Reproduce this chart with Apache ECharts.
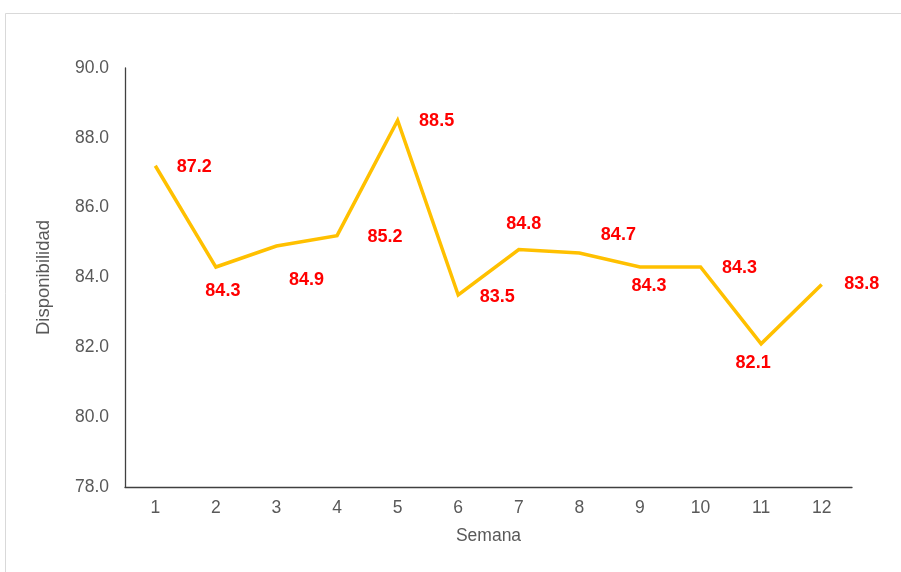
<!DOCTYPE html>
<html>
<head>
<meta charset="utf-8">
<title>Disponibilidad por semana</title>
<script src="https://cdn.jsdelivr.net/npm/echarts@6/dist/echarts.min.js"></script>
<style>
  html, body { margin: 0; padding: 0; background: #ffffff; }
  #chart { width: 901px; height: 572px; }
</style>
</head>
<body>
<div id="chart"></div>
<script>
// Weekly availability
const semanas = ['1', '2', '3', '4', '5', '6', '7', '8', '9', '10', '11', '12'];
const disponibilidad = [87.2, 84.3, 84.9, 85.2, 88.5, 83.5, 84.8, 84.7, 84.3, 84.3, 82.1, 83.8];

// Value-axis range
const yMin = 78;
const yMax = 90;
const yStep = 2;

// Per-point label placement (pixel offset from the point)
const labelOffsets = [
  [39, 1], [7, 24], [30, 34], [48, 1], [39, 1], [39, 2],
  [5, -26], [39, -18], [9, 19], [39, 1], [-8, 19], [40, 0]
];

const chart = echarts.init(document.getElementById('chart'), null, { renderer: 'canvas' });

const fontFamily = '"Liberation Sans", Arial, sans-serif';
const axisGrey = '#595959';

const seriesData = disponibilidad.map((v, i) => ({
  value: v,
  label: { offset: labelOffsets[i] }
}));

chart.setOption({
  backgroundColor: '#ffffff',
  animation: false,
  graphic: [{
    type: 'rect',
    left: 3,
    top: 11,
    shape: { width: 1000, height: 1000 },
    style: { fill: 'none', stroke: '#d9d9d9', lineWidth: 1 },
    silent: true
  }],
  grid: { left: 125, right: 49, top: 68, bottom: 85, containLabel: false },
  xAxis: {
    type: 'category',
    data: semanas,
    boundaryGap: true,
    name: 'Semana',
    nameLocation: 'middle',
    nameGap: 40,
    nameTextStyle: { color: axisGrey, fontSize: 17.5, fontFamily: fontFamily },
    axisLine: { lineStyle: { color: '#404040', width: 1.3 } },
    axisTick: { show: false },
    axisLabel: { color: axisGrey, fontSize: 17.5, fontFamily: fontFamily, margin: 12 },
    splitLine: { show: false }
  },
  yAxis: {
    type: 'value',
    min: yMin,
    max: yMax,
    interval: yStep,
    name: 'Disponibilidad',
    nameLocation: 'middle',
    nameGap: 72,
    nameTextStyle: { color: axisGrey, fontSize: 18.5, fontFamily: fontFamily },
    axisLine: { show: true, lineStyle: { color: '#404040', width: 1.3 } },
    axisTick: { show: false },
    axisLabel: {
      color: axisGrey,
      fontSize: 17.5,
      fontFamily: fontFamily,
      margin: 16,
      formatter: (v) => v.toFixed(1)
    },
    splitLine: { show: false }
  },
  series: [{
    type: 'line',
    data: seriesData,
    symbol: 'circle',
    symbolSize: 1,
    showSymbol: true,
    itemStyle: { color: 'rgba(0,0,0,0)' },
    lineStyle: { color: '#FFC000', width: 3.5, join: 'miter' },
    label: {
      show: true,
      position: 'inside',
      color: '#FF0000',
      fontSize: 18,
      fontWeight: 'bold',
      fontFamily: fontFamily,
      formatter: (p) => p.value.toFixed(1)
    },
    emphasis: { disabled: true }
  }]
});
</script>
</body>
</html>
